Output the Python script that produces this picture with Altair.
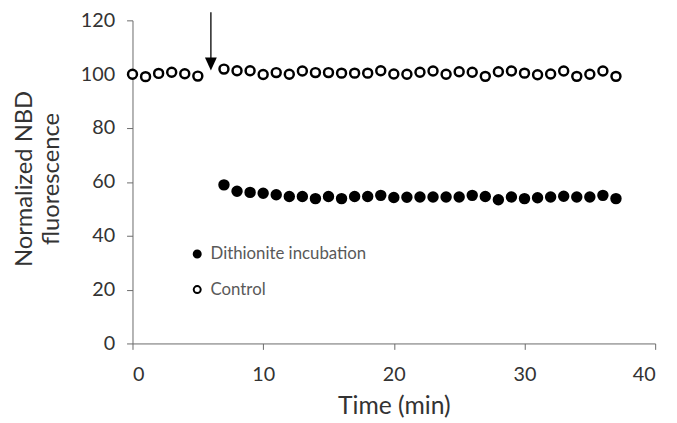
import altair as alt
import pandas as pd

# ---- data ----
series_labels = ["Dithionite incubation", "Control"]

control_time = [0, 1, 2, 3, 4, 5, 7, 8, 9, 10, 11, 12, 13, 14, 15, 16, 17, 18, 19, 20,
                21, 22, 23, 24, 25, 26, 27, 28, 29, 30, 31, 32, 33, 34, 35, 36, 37]
control_value = [100.0, 99.1, 100.3, 100.7, 100.2, 99.3,
                 101.9, 101.3, 101.3, 99.9, 100.6, 100.0, 101.2, 100.6, 100.6, 100.4,
                 100.4, 100.4, 101.3, 100.1, 100.0, 100.7, 101.2, 100.0, 100.9, 100.7,
                 99.2, 100.9, 101.2, 100.4, 99.8, 100.1, 101.2, 99.2, 100.0, 101.2, 99.2]

dith_time = [7, 8, 9, 10, 11, 12, 13, 14, 15, 16, 17, 18, 19, 20, 21, 22, 23, 24, 25,
             26, 27, 28, 29, 30, 31, 32, 33, 34, 35, 36, 37]
dith_value = [58.9, 56.5, 56.1, 55.8, 55.2, 54.6, 54.6, 53.8, 54.6, 53.8, 54.6, 54.6,
              55.0, 54.2, 54.3, 54.4, 54.4, 54.4, 54.4, 55.0, 54.6, 53.4, 54.4, 53.8,
              54.1, 54.4, 54.7, 54.4, 54.4, 55.0, 53.8]

x_ticks = [0, 10, 20, 30, 40]
y_ticks = [0, 20, 40, 60, 80, 100, 120]

# arrow marking the addition time
arrow_time = [6]
arrow_top = [123.0]
arrow_shaft_end = [105.5]
arrow_head = [103.8]

rows = [{"Time": t, "Value": v, "Series": series_labels[0]} for t, v in zip(dith_time, dith_value)]
rows += [{"Time": t, "Value": v, "Series": series_labels[1]} for t, v in zip(control_time, control_value)]
df = pd.DataFrame(rows)

arrow_df = pd.DataFrame({"Time": arrow_time, "Top": arrow_top, "End": arrow_shaft_end, "Head": arrow_head})

FONT = "Lato"
TXT = "#333333"
LINE = "#6a6a6a"

x_enc = alt.X("Time:Q", scale=alt.Scale(domain=[0, 40], nice=False),
              axis=alt.Axis(values=x_ticks, title="Time (min)", labelPadding=15,
                            titleX=264.5, titleY=71, titleBaseline="alphabetic"))
y_enc = alt.Y("Value:Q", scale=alt.Scale(domain=[0, 120], nice=False),
              axis=alt.Axis(values=y_ticks, title=["Normalized NBD", "fluorescence"],
                            labelPadding=12, titleAngle=-90, titleX=-102, titleY=160,
                            titleAlign="center", titleBaseline="alphabetic",
                            titleLineHeight=27, titleFontSize=24))

points = alt.Chart(df).mark_point(
    shape="circle", filled=True, size=82, stroke="black", strokeWidth=2.5, opacity=1
).encode(
    x=x_enc,
    y=y_enc,
    fill=alt.Fill("Series:N",
                  scale=alt.Scale(domain=series_labels, range=["black", "white"]),
                  legend=alt.Legend(orient="none", legendX=57, legendY=228, title=None,
                                    padding=0, symbolType="circle", symbolSize=50,
                                    symbolStrokeColor="black", symbolStrokeWidth=2,
                                    labelFont=FONT, labelFontSize=17, labelColor="#595959",
                                    labelOffset=5, rowPadding=18)),
)

shaft = alt.Chart(arrow_df).mark_rule(color="black", strokeWidth=1.3).encode(
    x=alt.X("Time:Q"),
    y=alt.Y("Top:Q"),
    y2=alt.Y2("End:Q"),
)

head = alt.Chart(arrow_df).mark_point(
    shape="M-1,-1.1L1,-1.1L0,1.1Z", size=144, filled=True, fill="black",
    strokeWidth=0, opacity=1
).encode(
    x=alt.X("Time:Q"),
    y=alt.Y("Head:Q"),
)

chart = alt.layer(points, shaft, head).properties(
    width=529, height=327,
    autosize=alt.AutoSizeParams(type="none"),
    padding={"left": 126, "top": 10, "right": 14, "bottom": 78},
).configure_view(stroke=None).configure_axis(
    grid=False, domainColor=LINE, tickColor=LINE, tickSize=6, domainWidth=1, tickWidth=1,
    labelFont=FONT, labelFontSize=20, labelColor=TXT,
    titleFont=FONT, titleFontSize=25, titleFontWeight="normal", titleColor=TXT,
)

chart.save("out.html", embed_options={"renderer": "svg", "actions": False})
